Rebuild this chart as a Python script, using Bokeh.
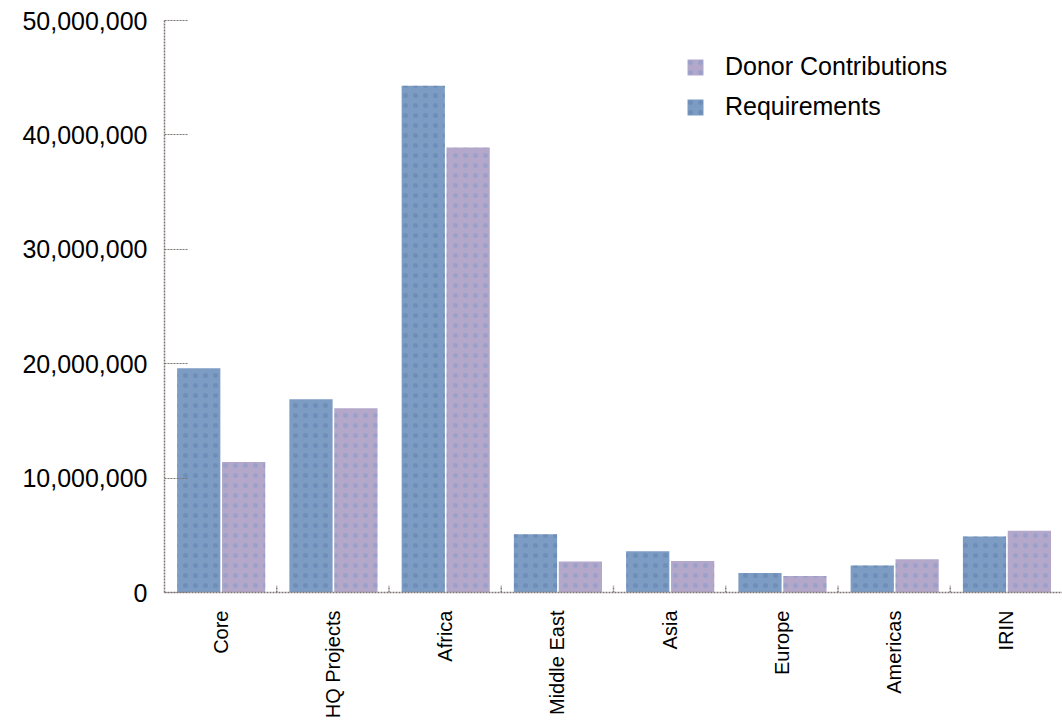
import math

from bokeh.plotting import figure
from bokeh.models import (ColumnDataSource, FactorRange, Range1d, NumeralTickFormatter,
                          Legend, LegendItem, FixedTicker)
from bokeh.transform import dodge
from bokeh.embed import file_html
from bokeh.resources import INLINE

# Funding by programme area (USD)
categories = ["Core", "HQ Projects", "Africa", "Middle East", "Asia", "Europe", "Americas", "IRIN"]
requirements = [19_600_000, 16_900_000, 44_300_000, 5_100_000, 3_600_000, 1_700_000, 2_350_000, 4_900_000]
donor_contributions = [11_400_000, 16_100_000, 38_900_000, 2_700_000, 2_750_000, 1_450_000, 2_900_000, 5_400_000]
y_ticks = [0, 10_000_000, 20_000_000, 30_000_000, 40_000_000, 50_000_000]

REQ_COLOR = "#7d9cc3"
DON_COLOR = "#b3a8c9"
AXIS_COLOR = "#7d7472"
FONT = "Liberation Sans"

source = ColumnDataSource(data=dict(cat=categories, req=requirements, don=donor_contributions))

p = figure(width=1062, height=722,
           x_range=FactorRange(*categories), y_range=Range1d(0, 50_000_000),
           output_backend="svg", toolbar_location=None,
           min_border_left=164, min_border_right=0, min_border_top=20, min_border_bottom=130)
p.outline_line_color = None
p.xgrid.visible = False
p.ygrid.visible = False
p.background_fill_color = "white"

req = p.vbar(x=dodge("cat", -0.195, range=p.x_range), top="req", width=0.385, source=source,
             fill_color=REQ_COLOR, line_color=None,
             hatch_pattern="dot", hatch_color="#5b7cae", hatch_alpha=0.45, hatch_scale=10, hatch_weight=2)
don = p.vbar(x=dodge("cat", 0.205, range=p.x_range), top="don", width=0.385, source=source,
             fill_color=DON_COLOR, line_color=None,
             hatch_pattern="dot", hatch_color="#7f96cc", hatch_alpha=0.45, hatch_scale=10, hatch_weight=2)

# small separator ticks between category groups
sep = list(range(1, len(categories)))
p.segment(x0=sep, x1=sep, y0=[0] * len(sep), y1=[600_000] * len(sep),
          line_color=AXIS_COLOR, line_width=1.5, line_dash="2 1")

# y axis
yax = p.yaxis[0]
yax.ticker = FixedTicker(ticks=y_ticks)
yax.formatter = NumeralTickFormatter(format="0,0")
yax.major_tick_in = 24
yax.major_tick_out = 0
yax.minor_tick_line_color = None
yax.major_tick_line_color = AXIS_COLOR
yax.major_tick_line_dash = "2 1"
yax.axis_line_color = AXIS_COLOR
yax.axis_line_dash = "2 1"
yax.axis_line_width = 1.5
yax.major_label_standoff = 17
yax.major_label_text_font = FONT
yax.major_label_text_font_size = "25px"
yax.major_label_text_color = "black"

# x axis, labels read bottom to top
xax = p.xaxis[0]
xax.major_tick_line_color = None
xax.major_tick_in = 0
xax.major_tick_out = 0
xax.axis_line_color = AXIS_COLOR
xax.axis_line_dash = "2 1"
xax.axis_line_width = 1.5
xax.major_label_orientation = math.pi / 2
xax.major_label_standoff = 18
xax.major_label_text_font = FONT
xax.major_label_text_font_size = "20px"
xax.major_label_text_color = "black"

legend = Legend(items=[LegendItem(label="Donor Contributions", renderers=[don]),
                       LegendItem(label="Requirements", renderers=[req])],
                location=(521, 471))
legend.border_line_color = None
legend.background_fill_alpha = 0
legend.padding = 0
legend.margin = 0
legend.spacing = 11
legend.glyph_width = 20
legend.glyph_height = 20
legend.label_standoff = 20
legend.label_text_font = FONT
legend.label_text_font_size = "25px"
legend.label_text_color = "black"
p.add_layout(legend)

open("out.html", "w").write(file_html(p, INLINE))
